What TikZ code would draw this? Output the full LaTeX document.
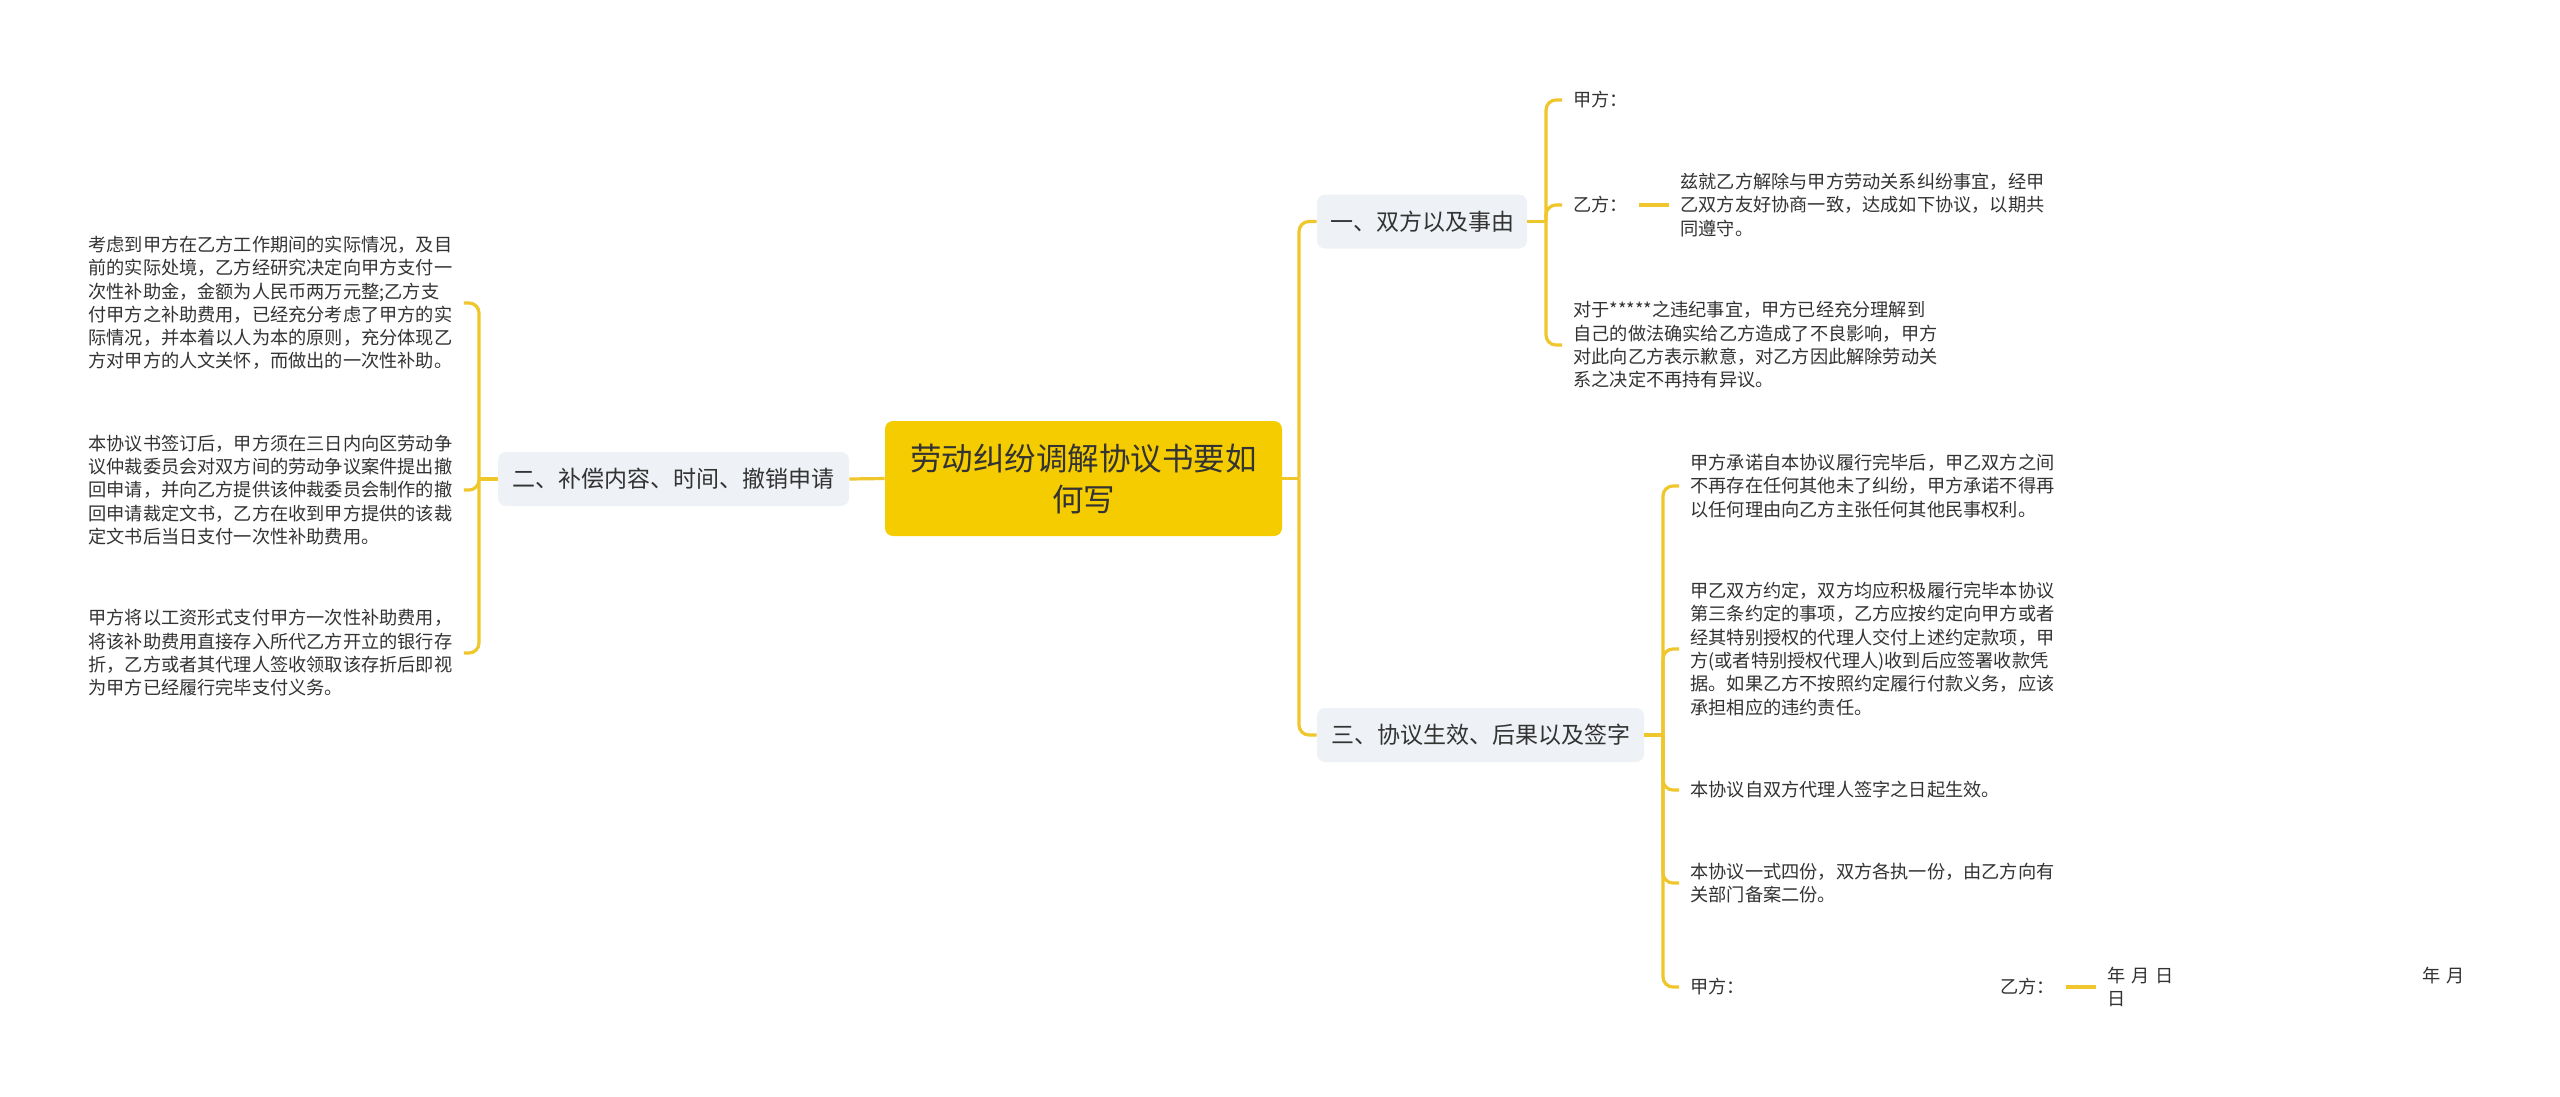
\documentclass[tikz,border=0pt]{standalone}
\usepackage{fontspec}
\setmainfont{Noto Sans CJK SC}
\definecolor{rootYellow}{HTML}{F5CC00}
\definecolor{topicGray}{HTML}{EEF1F5}
\definecolor{branchYellow}{HTML}{EFC62C}
\definecolor{textDark}{HTML}{333333}
\begin{document}
\begin{tikzpicture}[x=0.5pt, y=-0.5pt, rootStyle/.style={rectangle, fill=rootYellow, rounded corners=4pt, minimum width=198.5pt, minimum height=57.5pt, align=center, text=textDark, font=\fontsize{15.75pt}{20.5pt}\selectfont}, topicStyle/.style={rectangle, fill=topicGray, rounded corners=4pt, minimum height=27pt, text=textDark, font=\fontsize{11.5pt}{14pt}\selectfont}, leafStyle/.style={anchor=west, align=left, inner xsep=5.5pt, inner ysep=0pt, text=textDark, font=\fontsize{9.1pt}{11.65pt}\selectfont}, branchStyle/.style={draw=branchYellow, line width=1.6pt, rounded corners=5pt}]
    \useasboundingbox[fill=white] (0, 0) rectangle (2560, 1097);
    % centre
    \node[rootStyle] (root) at (1083.5, 478.5) {劳动纠纷调解协议书要如\\何写};
    % topics
    \node[topicStyle, minimum width=105pt]   (topic_1) at (1422,   221.5) {一、双方以及事由};
    \node[topicStyle, minimum width=175.5pt] (topic_2) at ( 673.5, 479)   {二、补偿内容、时间、撤销申请};
    \node[topicStyle, minimum width=163.5pt] (topic_3) at (1480.5, 735)   {三、协议生效、后果以及签字};
    \coordinate (fork_0) at (1299, 478.5);
    \coordinate (fork_1) at (1546, 221.5);
    \coordinate (fork_2) at ( 479, 479);
    \coordinate (fork_3) at (1663, 735);
    % leaves of topic 1
    \node[leafStyle] (leaf_1_0)   at (1562, 100) {甲方：};
    \node[leafStyle] (leaf_1_1)   at (1562, 205) {乙方：};
    \node[leafStyle] (leaf_1_1_0) at (1669, 205) {兹就乙方解除与甲方劳动关系纠纷事宜，经甲\\乙双方友好协商一致，达成如下协议，以期共\\同遵守。};
    \node[leafStyle] (leaf_1_2)   at (1562, 345) {对于*****之违纪事宜，甲方已经充分理解到\\自己的做法确实给乙方造成了不良影响，甲方\\对此向乙方表示歉意，对乙方因此解除劳动关\\系之决定不再持有异议。};
    % leaves of topic 2
    \node[leafStyle] (leaf_2_0) at (77, 303) {考虑到甲方在乙方工作期间的实际情况，及目\\前的实际处境，乙方经研究决定向甲方支付一\\次性补助金，金额为人民币两万元整;乙方支\\付甲方之补助费用，已经充分考虑了甲方的实\\际情况，并本着以人为本的原则，充分体现乙\\方对甲方的人文关怀，而做出的一次性补助。};
    \node[leafStyle] (leaf_2_1) at (77, 490) {本协议书签订后，甲方须在三日内向区劳动争\\议仲裁委员会对双方间的劳动争议案件提出撤\\回申请，并向乙方提供该仲裁委员会制作的撤\\回申请裁定文书，乙方在收到甲方提供的该裁\\定文书后当日支付一次性补助费用。};
    \node[leafStyle] (leaf_2_2) at (77, 653) {甲方将以工资形式支付甲方一次性补助费用，\\将该补助费用直接存入所代乙方开立的银行存\\折，乙方或者其代理人签收领取该存折后即视\\为甲方已经履行完毕支付义务。};
    % leaves of topic 3
    \node[leafStyle] (leaf_3_0)   at (1679, 486) {甲方承诺自本协议履行完毕后，甲乙双方之间\\不再存在任何其他未了纠纷，甲方承诺不得再\\以任何理由向乙方主张任何其他民事权利。};
    \node[leafStyle] (leaf_3_1)   at (1679, 649) {甲乙双方约定，双方均应积极履行完毕本协议\\第三条约定的事项，乙方应按约定向甲方或者\\经其特别授权的代理人交付上述约定款项，甲\\方(或者特别授权代理人)收到后应签署收款凭\\据。如果乙方不按照约定履行付款义务，应该\\承担相应的违约责任。};
    \node[leafStyle] (leaf_3_2)   at (1679, 790) {本协议自双方代理人签字之日起生效。};
    \node[leafStyle] (leaf_3_3)   at (1679, 883) {本协议一式四份，双方各执一份，由乙方向有\\关部门备案二份。};
    \node[leafStyle] (leaf_3_4)   at (1679, 987) {甲方：\hspace{127.5pt}乙方：};
    \node[leafStyle] (leaf_3_4_0) at (2096, 987) {年\hspace{3pt}月\hspace{3pt}日\hspace{124pt}年\hspace{3pt}月\\日};
    % connectors
    \draw[branchStyle] (root.west) -- (topic_2.east);
    \draw[branchStyle] (root.east) -- (fork_0);
    \draw[branchStyle] (fork_0) |- (topic_1.west);
    \draw[branchStyle] (fork_0) |- (topic_3.west);
    \draw[branchStyle] (topic_1.east) -- (fork_1);
    \draw[branchStyle] (fork_1) |- (leaf_1_0.west);
    \draw[branchStyle] (fork_1) |- (leaf_1_1.west);
    \draw[branchStyle] (fork_1) |- (leaf_1_2.west);
    \draw[branchStyle] (leaf_1_1.east) -- (leaf_1_1_0.west);
    \draw[branchStyle] (topic_2.west) -- (fork_2);
    \draw[branchStyle] (fork_2) |- (leaf_2_0.east);
    \draw[branchStyle] (fork_2) |- (leaf_2_1.east);
    \draw[branchStyle] (fork_2) |- (leaf_2_2.east);
    \draw[branchStyle] (topic_3.east) -- (fork_3);
    \draw[branchStyle] (fork_3) |- (leaf_3_0.west);
    \draw[branchStyle] (fork_3) |- (leaf_3_1.west);
    \draw[branchStyle] (fork_3) |- (leaf_3_2.west);
    \draw[branchStyle] (fork_3) |- (leaf_3_3.west);
    \draw[branchStyle] (fork_3) |- (leaf_3_4.west);
    \draw[branchStyle] (leaf_3_4.east) -- (leaf_3_4_0.west);
\end{tikzpicture}
\end{document}
